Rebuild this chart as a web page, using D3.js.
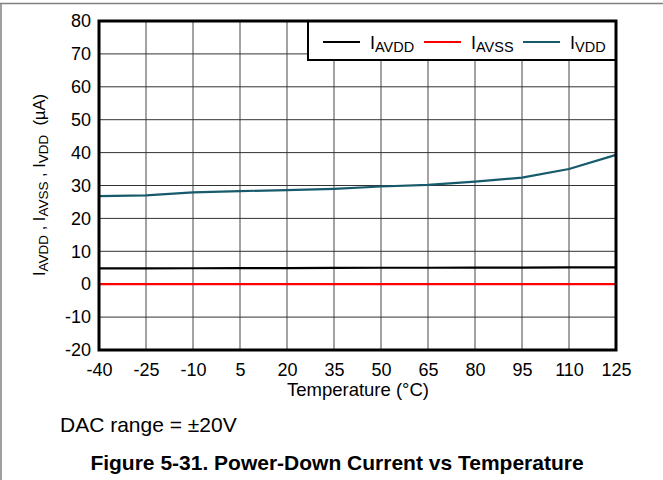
<!DOCTYPE html>
<html><head><meta charset="utf-8">
<script src="https://cdn.jsdelivr.net/npm/d3@7"></script>
<style>body{margin:0;background:#fff}svg{display:block;font-family:"Liberation Sans",Arial,sans-serif}</style>
</head><body>
<svg id="c" width="663" height="480"></svg>
<script>
const temps = [-40, -25, -10, 5, 20, 35, 50, 65, 80, 95, 110, 125];
const iAVDD = [4.8, 4.8, 4.85, 4.9, 4.9, 4.95, 5.0, 5.0, 5.05, 5.05, 5.1, 5.1];
const iAVSS = [0, 0, 0, 0, 0, 0, 0, 0, 0, 0, 0, 0];
const iVDD = [26.8, 27.0, 27.9, 28.3, 28.6, 29.0, 29.7, 30.2, 31.2, 32.4, 35.0, 39.3];
const yTicks = [-20, -10, 0, 10, 20, 30, 40, 50, 60, 70, 80];
const series = [
  {name: "AVDD", values: iAVDD, color: "#000000"},
  {name: "AVSS", values: iAVSS, color: "#ff0000"},
  {name: "VDD", values: iVDD, color: "#175a6b"}
];

const svg = d3.select("#c");
const L = 99, R = 616, T = 21, B = 350;
const x = d3.scaleLinear().domain([-40, 125]).range([L, R]);
const y = d3.scaleLinear().domain([-20, 80]).range([B, T]);
const FS = 18;

// outer page border (top & left)
svg.append("line").attr("x1", 0).attr("x2", 663).attr("y1", 3.5).attr("y2", 3.5).attr("stroke", "#808080").attr("stroke-width", 1.5);
svg.append("line").attr("x1", 1).attr("x2", 1).attr("y1", 3).attr("y2", 480).attr("stroke", "#808080").attr("stroke-width", 1.5);

// grid
const g = svg.append("g");
g.selectAll(".vg").data(temps.slice(1, -1)).enter().append("line")
  .attr("x1", d => x(d)).attr("x2", d => x(d)).attr("y1", T).attr("y2", B)
  .attr("stroke", "#666").attr("stroke-width", 1.2);
g.selectAll(".hg").data(yTicks.slice(1, -1)).enter().append("line")
  .attr("x1", L).attr("x2", R).attr("y1", d => y(d)).attr("y2", d => y(d))
  .attr("stroke", "#333").attr("stroke-width", 1);

// axes ticks labels
const fmt = d => String(d);
const xAxis = d3.axisBottom(x).tickValues(temps).tickSize(0).tickPadding(13).tickFormat(fmt);
const xa = svg.append("g").attr("transform", `translate(0,${B})`).call(xAxis);
xa.select(".domain").remove();
xa.selectAll("text").attr("font-size", FS).attr("fill", "#000").attr("font-family", "Liberation Sans, Arial, sans-serif");

const yAxis = d3.axisLeft(y).tickValues(yTicks).tickSize(0).tickPadding(8).tickFormat(fmt);
const ya = svg.append("g").attr("transform", `translate(${L},0)`).call(yAxis);
ya.select(".domain").remove();
ya.selectAll("text").attr("font-size", FS).attr("fill", "#000").attr("font-family", "Liberation Sans, Arial, sans-serif");

// lines
const line = d3.line().x((d, i) => x(temps[i])).y(d => y(d));
series.forEach(s => {
  svg.append("path").datum(s.values).attr("d", line)
    .attr("fill", "none").attr("stroke", s.color).attr("stroke-width", 2.2);
});

// legend
const lg = svg.append("g");
lg.append("rect").attr("x", 308).attr("y", T).attr("width", R - 308).attr("height", 39)
  .attr("fill", "#fff").attr("stroke", "#000").attr("stroke-width", 2);
const lx = [323, 424, 523];
series.forEach((s, i) => {
  lg.append("line").attr("x1", lx[i]).attr("x2", lx[i] + 37).attr("y1", 42).attr("y2", 42)
    .attr("stroke", s.color).attr("stroke-width", 2.2);
  const t = lg.append("text").attr("x", lx[i] + 47).attr("y", 49).attr("font-size", 18).attr("fill", "#000");
  t.append("tspan").text("I");
  t.append("tspan").attr("dy", 3).attr("font-size", 14.5).text(s.name);
});

// plot frame
svg.append("rect").attr("x", L).attr("y", T).attr("width", R - L).attr("height", B - T)
  .attr("fill", "none").attr("stroke", "#000").attr("stroke-width", 3);

// x title
svg.append("text").attr("x", 358).attr("y", 396).attr("text-anchor", "middle")
  .attr("font-size", 18.5).text("Temperature (°C)");

// y title
const yt = svg.append("text").attr("transform", "translate(45,185) rotate(-90)").attr("text-anchor", "middle").attr("font-size", 16.5);
yt.attr("xml:space", "preserve");
[["I", null], ["AVDD", 1], [" , I", 0], ["AVSS", 1], [" , I", 0], ["VDD", 1], ["  (µA)", 0]].forEach(([txt, sub]) => {
  const ts = yt.append("tspan").text(txt);
  if (sub === 1) ts.attr("dy", 3).attr("font-size", 13.5);
  else if (sub === 0) ts.attr("dy", -3);
});

// notes
svg.append("text").attr("x", 60).attr("y", 432).attr("font-size", 21).text("DAC range = ±20V");
svg.append("text").attr("x", 337).attr("y", 470).attr("text-anchor", "middle")
  .attr("font-size", 21).attr("font-weight", "bold").text("Figure 5-31. Power-Down Current vs Temperature");
</script>
</body></html>
